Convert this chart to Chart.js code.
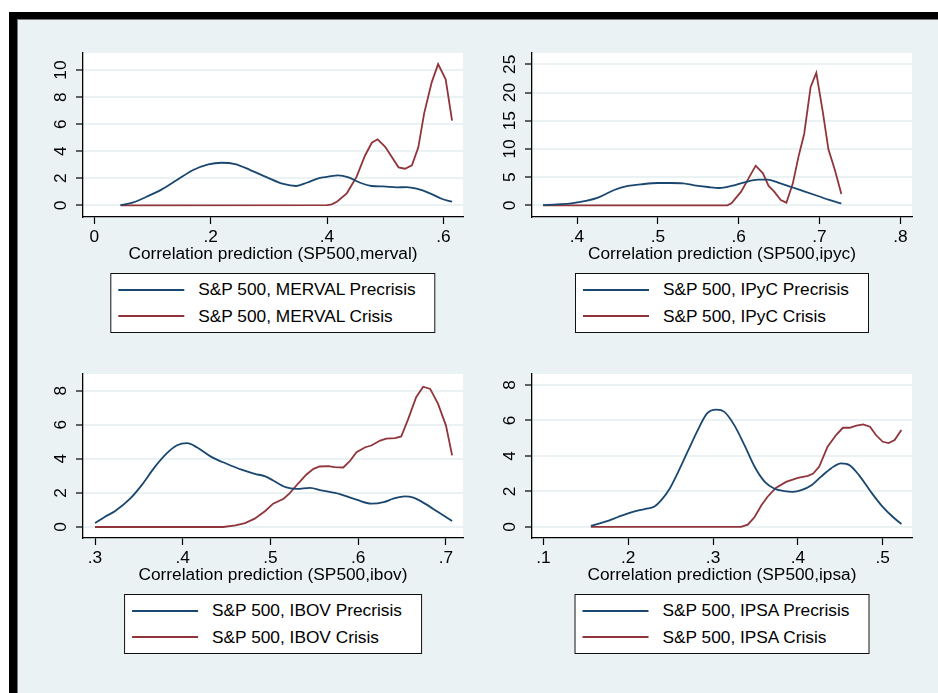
<!DOCTYPE html>
<html>
<head>
<meta charset="utf-8">
<script src="https://cdn.jsdelivr.net/npm/chart.js@4.4.1/dist/chart.umd.min.js"></script>
<style>
  body { margin: 0; width: 938px; height: 693px; background: #fff; overflow: hidden; position: relative; font-family: "Liberation Sans", Arial, sans-serif; }
  .frame { position: absolute; left: 9px; top: 12px; right: 0; bottom: 0; background: #000; }
  .inner { position: absolute; left: 17px; top: 19px; right: 0; bottom: 0; background: #eaf2f3; border-top: 1px solid #777; border-left: 1px solid #777; box-sizing: border-box; }
  canvas { position: absolute; }
  .lg { position: absolute; transform: translateX(-50%); background: #fff; border: 1.5px solid #111; padding: 2px 19px 2px 7px; font-size: 17.3px; color: #000; white-space: nowrap; }
  .lg .row { height: 26.7px; display: flex; align-items: center; }
  .lg .sw { display: inline-block; width: 66px; height: 2px; margin-right: 14px; }
</style>
</head>
<body>
<div class="frame"></div>
<div class="inner"></div>
<canvas id="merval" width="460" height="246" style="left:17px;top:19px"></canvas>
<canvas id="ipyc" width="472" height="246" style="left:466px;top:19px"></canvas>
<canvas id="ibov" width="460" height="246" style="left:17px;top:340px"></canvas>
<canvas id="ipsa" width="472" height="246" style="left:466px;top:340px"></canvas>
<script>
// ---- data ----
const mervalPreX = [0.045,0.067,0.090,0.116,0.142,0.170,0.196,0.219,0.242,0.268,0.296,0.325,0.347,0.365,0.385,0.402,0.419,0.437,0.457,0.477,0.497,0.520,0.537,0.554,0.577,0.597,0.615];
const mervalPreY = [0.02,0.22,0.64,1.18,1.87,2.61,3.03,3.15,3.05,2.61,2.09,1.58,1.43,1.67,2.00,2.12,2.22,2.07,1.67,1.43,1.40,1.33,1.35,1.23,0.89,0.49,0.27];
const mervalCriX = [0.045,0.400,0.408,0.417,0.434,0.451,0.465,0.477,0.487,0.500,0.523,0.534,0.546,0.557,0.567,0.580,0.591,0.604,0.615];
const mervalCriY = [0,0.02,0.08,0.27,0.89,2.12,3.65,4.63,4.88,4.33,2.81,2.71,2.96,4.29,6.80,9.09,10.44,9.31,6.26];

const ipycPreX = [0.358,0.376,0.393,0.411,0.426,0.446,0.463,0.479,0.500,0.516,0.531,0.545,0.562,0.576,0.591,0.607,0.624,0.636,0.648,0.665,0.681,0.698,0.712,0.727];
const ipycPreY = [0.05,0.18,0.35,0.77,1.36,2.72,3.43,3.72,3.96,3.96,3.90,3.55,3.25,3.07,3.43,4.08,4.55,4.55,4.08,3.25,2.48,1.65,0.95,0.35];
const ipycCriX = [0.358,0.586,0.591,0.603,0.621,0.630,0.637,0.644,0.652,0.659,0.667,0.674,0.681,0.689,0.696,0.704,0.711,0.719,0.727];
const ipycCriY = [0,0,0.35,2.42,7.03,5.67,3.43,2.42,0.95,0.47,3.90,8.63,12.65,21.0,23.5,16.6,9.93,6.26,2.0];

const ibovPreX = [0.300,0.311,0.323,0.340,0.353,0.368,0.382,0.393,0.405,0.416,0.433,0.450,0.467,0.482,0.494,0.503,0.517,0.530,0.545,0.558,0.579,0.598,0.615,0.629,0.640,0.653,0.663,0.676,0.691,0.707];
const ibovPreY = [0.23,0.59,0.94,1.66,2.44,3.51,4.33,4.78,4.92,4.68,4.10,3.71,3.36,3.12,2.97,2.73,2.34,2.24,2.30,2.15,1.93,1.60,1.37,1.46,1.66,1.80,1.72,1.37,0.88,0.35];
const ibovCriX = [0.300,0.446,0.460,0.471,0.482,0.494,0.503,0.515,0.522,0.532,0.541,0.549,0.556,0.566,0.573,0.583,0.591,0.598,0.608,0.615,0.625,0.632,0.642,0.649,0.657,0.666,0.674,0.682,0.691,0.700,0.707];
const ibovCriY = [0,0,0.10,0.23,0.49,0.94,1.37,1.66,1.99,2.58,3.08,3.41,3.55,3.57,3.51,3.49,3.90,4.39,4.68,4.78,5.07,5.19,5.21,5.31,6.34,7.61,8.23,8.10,7.22,5.95,4.20];

const ipsaPreX = [0.156,0.172,0.188,0.199,0.211,0.223,0.231,0.239,0.249,0.258,0.270,0.282,0.293,0.304,0.313,0.325,0.337,0.349,0.361,0.372,0.384,0.394,0.404,0.416,0.427,0.439,0.451,0.461,0.472,0.486,0.500,0.512,0.522];
const ipsaPreY = [0.06,0.28,0.56,0.75,0.92,1.04,1.15,1.51,2.17,3.01,4.24,5.46,6.40,6.61,6.50,5.74,4.61,3.39,2.54,2.17,2.02,1.98,2.07,2.35,2.82,3.30,3.58,3.48,2.92,1.98,1.13,0.56,0.17];
const ipsaCriX = [0.156,0.333,0.341,0.349,0.357,0.364,0.374,0.386,0.400,0.412,0.418,0.425,0.435,0.445,0.453,0.461,0.469,0.477,0.485,0.492,0.500,0.507,0.514,0.522];
const ipsaCriY = [0,0,0.13,0.56,1.22,1.69,2.20,2.54,2.77,2.88,3.01,3.39,4.52,5.18,5.59,5.59,5.71,5.78,5.65,5.18,4.80,4.73,4.90,5.46];

// ticks
const mervalXTicks = [0, 0.2, 0.4, 0.6];
const mervalXLabels = ['0', '.2', '.4', '.6'];
const mervalYTicks = [0, 2, 4, 6, 8, 10];
const ipycXTicks = [0.4, 0.5, 0.6, 0.7, 0.8];
const ipycXLabels = ['.4', '.5', '.6', '.7', '.8'];
const ipycYTicks = [0, 5, 10, 15, 20, 25];
const ibovXTicks = [0.3, 0.4, 0.5, 0.6, 0.7];
const ibovXLabels = ['.3', '.4', '.5', '.6', '.7'];
const ibovYTicks = [0, 2, 4, 6, 8];
const ipsaXTicks = [0.1, 0.2, 0.3, 0.4, 0.5];
const ipsaXLabels = ['.1', '.2', '.3', '.4', '.5'];
const ipsaYTicks = [0, 2, 4, 6, 8];

const navy = '#1a476f';
const maroon = '#90353b';
const FONT = '"Liberation Sans", Arial, sans-serif';
const FS = 17.3;

function pts(xs, ys) {
  return xs.map((x, i) => ({x: x, y: ys[i]}));
}

// white plot region
const plotBg = {
  id: 'plotBg',
  beforeDraw(chart) {
    const a = chart.chartArea;
    chart.ctx.save();
    chart.ctx.fillStyle = '#fff';
    chart.ctx.fillRect(a.left, a.top, a.right - a.left, a.bottom - a.top);
    chart.ctx.restore();
  }
};

// boxed legend under the plot, built from the datasets
const htmlLegend = {
  id: 'htmlLegend',
  afterUpdate(chart) {
    const canvas = chart.canvas;
    let box = document.getElementById(canvas.id + '-legend');
    if (!box) {
      box = document.createElement('div');
      box.id = canvas.id + '-legend';
      box.className = 'lg';
      document.body.appendChild(box);
    }
    box.innerHTML = '';
    chart.data.datasets.forEach(ds => {
      const row = document.createElement('div');
      row.className = 'row';
      const sw = document.createElement('span');
      sw.className = 'sw';
      sw.style.background = ds.borderColor;
      row.appendChild(sw);
      row.appendChild(document.createTextNode(ds.label));
      box.appendChild(row);
    });
    const a = chart.chartArea;
    box.style.left = (canvas.offsetLeft + (a.left + a.right) / 2) + 'px';
    box.style.top = (canvas.offsetTop + a.bottom + 56.3) + 'px';
  }
};

function makePanel(id, name, pre, cri, xr, yr, xTicks, xLabels, yTicks, yPad, rightPad, xTitle) {
  new Chart(document.getElementById(id), {
    type: 'line',
    data: {
      datasets: [{
        label: 'S&P 500, ' + name + ' Precrisis',
        data: pre,
        borderColor: navy,
        borderWidth: 1.8,
        pointRadius: 0,
        cubicInterpolationMode: 'monotone'
      }, {
        label: 'S&P 500, ' + name + ' Crisis',
        data: cri,
        borderColor: maroon,
        borderWidth: 1.8,
        pointRadius: 0,
        tension: 0
      }]
    },
    options: {
      responsive: false,
      animation: false,
      layout: { padding: { top: 34, right: rightPad, left: 0, bottom: 0 } },
      plugins: { legend: { display: false }, tooltip: { enabled: false } },
      scales: {
        x: {
          type: 'linear',
          min: xr[0], max: xr[1],
          afterBuildTicks: s => { s.ticks = xTicks.map(v => ({value: v})); },
          afterFit: s => { s.height = 48; },
          grid: { drawOnChartArea: false, tickLength: 7, tickColor: '#000', tickWidth: 1.2 },
          border: { color: '#000', width: 1.3 },
          ticks: {
            color: '#000', padding: 3, maxRotation: 0,
            font: { family: FONT, size: FS },
            callback: (v, i) => xLabels[i]
          },
          title: {
            display: true, text: xTitle, color: '#000',
            font: { family: FONT, size: FS },
            padding: { top: 0, bottom: 0 }
          }
        },
        y: {
          min: yr[0], max: yr[1],
          afterBuildTicks: s => { s.ticks = yTicks.map(v => ({value: v})); },
          afterFit: s => { s.width = 66; },
          grid: { color: '#eaf2f3', lineWidth: 2, tickLength: 7, tickColor: '#000', tickWidth: 1.2 },
          border: { color: '#000', width: 1.3 },
          ticks: {
            color: '#000', padding: yPad, minRotation: 90, maxRotation: 90, crossAlign: 'center',
            font: { family: FONT, size: FS }
          }
        }
      }
    },
    plugins: [plotBg, htmlLegend]
  });
}

makePanel('merval', 'MERVAL', pts(mervalPreX, mervalPreY), pts(mervalCriX, mervalCriY),
  [-0.0195, 0.6338], [-0.86, 11.26], mervalXTicks, mervalXLabels, mervalYTicks, 4.9, 14,
  'Correlation prediction (SP500,merval)');
makePanel('ipyc', 'IPyC', pts(ipycPreX, ipycPreY), pts(ipycCriX, ipycCriY),
  [0.3443, 0.8144], [-2.07, 27.01], ipycXTicks, ipycXLabels, ipycYTicks, 4.9, 26,
  'Correlation prediction (SP500,ipyc)');
makePanel('ibov', 'IBOV', pts(ibovPreX, ibovPreY), pts(ibovCriX, ibovCriY),
  [0.2863, 0.7194], [-0.646, 8.976], ibovXTicks, ibovXLabels, ibovYTicks, 9.7, 14,
  'Correlation prediction (SP500,ibov)');
makePanel('ipsa', 'IPSA', pts(ipsaPreX, ipsaPreY), pts(ipsaCriX, ipsaCriY),
  [0.0866, 0.5345], [-0.623, 8.62], ipsaXTicks, ipsaXLabels, ipsaYTicks, 9.7, 26,
  'Correlation prediction (SP500,ipsa)');
</script>
</body>
</html>
